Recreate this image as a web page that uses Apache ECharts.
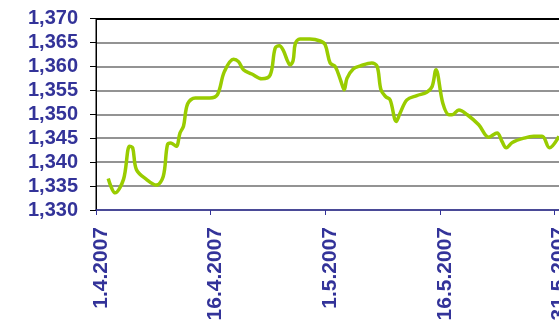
<!DOCTYPE html>
<html>
<head>
<meta charset="utf-8">
<script src="https://cdn.jsdelivr.net/npm/echarts@6/dist/echarts.min.js"></script>
<style>
  html, body { margin: 0; padding: 0; background: #fff; }
  #chart { width: 559px; height: 323px; }
</style>
</head>
<body>
<div id="chart"></div>
<script>
// days after 1.4.2007 and the rate
const days = [1.6, 2.5, 3.6, 4.4, 4.8, 5.3, 6.6, 7.9, 8.8, 9.35, 9.8, 10.5, 11.0, 11.45, 12.0, 13.0,
  14.9, 15.9, 16.8, 18.0, 18.65, 19.3, 20.4, 21.7, 22.8, 23.45, 24.0, 24.5, 25.0, 25.4, 25.8, 26.1,
  26.7, 28.0, 29.35, 30.0, 30.65, 31.3, 32.0, 32.5, 32.85, 33.7, 34.6, 36.1, 36.8, 37.3, 37.9, 38.5,
  39.3, 39.8, 40.7, 42.0, 43.3, 44.0, 44.5, 45.4, 46.2, 46.6, 47.5, 48.6, 50.1, 51.4, 52.5, 53.15,
  53.7, 54.5, 56.0, 57.3, 58.4, 59.35, 60.6];
const rates = [1.3366, 1.3336, 1.3364, 1.3433, 1.3430, 1.3384, 1.3364, 1.3352, 1.3370, 1.3436, 1.3440, 1.3433, 1.3461, 1.3475, 1.3522, 1.3534,
  1.3534, 1.3541, 1.3589, 1.3615, 1.3610, 1.3593, 1.3584, 1.3574, 1.3582, 1.3638, 1.3643, 1.3634, 1.3614, 1.3603, 1.3612, 1.3648,
  1.3657, 1.3657, 1.3653, 1.3645, 1.3607, 1.3600, 1.3572, 1.3551, 1.3575, 1.3595, 1.3601, 1.3607, 1.3600, 1.3551, 1.3537, 1.3530,
  1.3485, 1.3502, 1.3530, 1.3539, 1.3546, 1.3558, 1.3593, 1.3523, 1.3499, 1.3499, 1.3509, 1.3499, 1.3478, 1.3452, 1.3461, 1.3443,
  1.3430, 1.3441, 1.3450, 1.3454, 1.3454, 1.3430, 1.3454];

const xTickDays = [0, 15, 30, 45, 60];
const xTickLabels = ['1.4.2007', '16.4.2007', '1.5.2007', '16.5.2007', '31.5.2007'];

const labelFont = {
  color: '#333399',
  fontFamily: 'Liberation Sans, Arial, sans-serif',
  fontWeight: 'bold'
};

const chart = echarts.init(document.getElementById('chart'));
chart.setOption({
  animation: false,
  backgroundColor: '#fff',
  grid: {
    left: 96, top: 18.5, width: 466, height: 191.5,
    outerBoundsMode: 'none',
    containLabel: false,
    show: true, borderColor: '#000', borderWidth: 1, backgroundColor: 'transparent'
  },
  xAxis: {
    type: 'value',
    min: 0,
    max: 61,
    interval: 15,
    axisLine: { show: true, lineStyle: { color: '#333399', width: 1.5 } },
    axisTick: { show: true, inside: false, length: 5, lineStyle: { color: '#333399' } },
    splitLine: { show: false },
    axisLabel: Object.assign({
      fontSize: 21,
      rotate: 90,
      margin: 17,
      verticalAlign: 'top',
      lineHeight: 10,
      showMaxLabel: false,
      formatter: function (v) {
        const i = xTickDays.indexOf(v);
        return i >= 0 ? xTickLabels[i] : '';
      }
    }, labelFont)
  },
  yAxis: {
    type: 'value',
    min: 1.330,
    max: 1.370,
    interval: 0.005,
    axisLine: { show: true, lineStyle: { color: '#000', width: 1 } },
    axisTick: { show: true, inside: false, length: 6, lineStyle: { color: '#000' } },
    splitLine: {
      show: true,
      lineStyle: {
        color: ['#939393', '#939393', '#939393', '#939393', '#939393', '#939393', '#939393', '#939393', '#000'],
        width: 2
      }
    },
    axisLabel: Object.assign({
      fontSize: 20,
      margin: 18,
      formatter: function (v) { return v.toFixed(3).replace('.', ','); }
    }, labelFont)
  },
  series: [{
    type: 'line',
    data: days.map((d, i) => [d, rates[i]]),
    smooth: 0.35,
    showSymbol: false,
    lineStyle: { color: '#99CC00', width: 3.5 },
    itemStyle: { color: '#99CC00' }
  }]
});
</script>
</body>
</html>
